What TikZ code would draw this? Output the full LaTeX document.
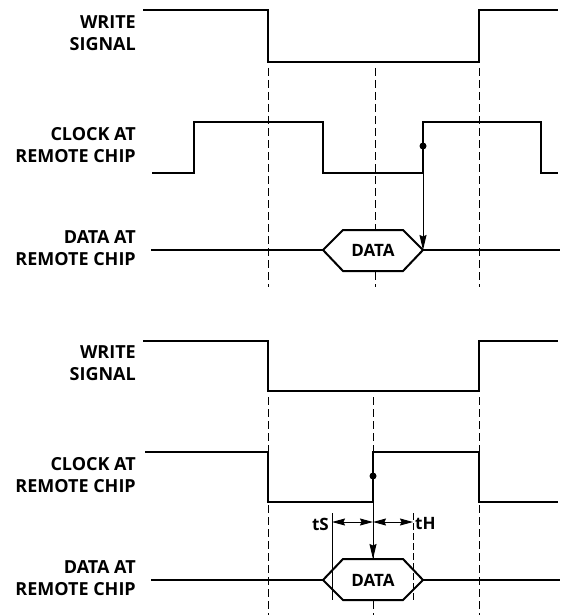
\documentclass[tikz,border=0pt]{standalone}
\usepackage{fontspec}
\setmainfont{Open Sans}
\usetikzlibrary{arrows.meta}

\begin{document}
\begin{tikzpicture}[x=1pt, y=-1pt,
    signal/.style={line width=2pt, line join=miter},
    guide/.style={line width=1pt, dash pattern=on 8pt off 4pt},
    thinline/.style={line width=0.7pt},
    siglabel/.style={anchor=east, align=right, inner sep=0pt, font=\bfseries\fontsize{18}{22.5}\selectfont},
    datatext/.style={inner sep=0pt, font=\bfseries\fontsize{17}{19}\selectfont},
    timetext/.style={inner sep=0pt, font=\bfseries\fontsize{17}{19}\selectfont},
    probe/.style={line width=1pt, -{Stealth[length=15pt, width=7pt, inset=1.5pt]}},
    span/.style={line width=1pt, {Stealth[length=13pt, width=7pt, inset=1.5pt]}-{Stealth[length=13pt, width=7pt, inset=1.5pt]}}]

    \useasboundingbox (0,0) rectangle (561,615);

    % First diagram
    \node[siglabel] (W1) at (136,33) {WRITE\\SIGNAL};
    \node[siglabel] (C1) at (136,145) {CLOCK AT\\REMOTE CHIP};
    \node[siglabel] (D1) at (136,248) {DATA AT\\REMOTE CHIP};

    \draw[guide] (268,68) -- (268,287);
    \draw[guide] (375,68) -- (375,287);
    \draw[guide] (479,68) -- (479,287);

    \draw[signal] (143,10) -- (268,10) -- (268,62) -- (479,62) -- (479,10) -- (558,10);
    \draw[signal] (152,173) -- (194,173) -- (194,122) -- (323,122) -- (323,173)
        -- (423,173) -- (423,122) -- (541,122) -- (541,173) -- (558,173);

    \coordinate (L1) at (323,250);
    \coordinate (R1) at (423,250);
    \draw[signal, fill=white] (L1) -- (343,230) -- (403,230) -- (R1) -- (403,271) -- (343,271) -- cycle;
    \draw[signal] (151,250) -- (L1);
    \draw[signal] (R1) -- (560,250);
    \node[datatext] (X1) at (373,250) {DATA};

    \coordinate (E1) at (423,146);
    \fill (E1) circle (3.5pt);
    \draw[probe] (E1) -- (R1);

    % Second diagram
    \node[siglabel] (W2) at (136,363) {WRITE\\SIGNAL};
    \node[siglabel] (C2) at (136,475) {CLOCK AT\\REMOTE CHIP};
    \node[siglabel] (D2) at (136,578) {DATA AT\\REMOTE CHIP};

    \draw[guide] (268,397) -- (268,615);
    \draw[guide] (373,397) -- (373,615);
    \draw[guide] (479,397) -- (479,615);

    \draw[signal] (143,341) -- (268,341) -- (268,391) -- (479,391) -- (479,341) -- (558,341);
    \draw[signal] (145,452) -- (268,452) -- (268,502) -- (373,502) -- (373,452)
        -- (479,452) -- (479,502) -- (558,502);

    \coordinate (L2) at (323,580);
    \coordinate (R2) at (423,580);
    \coordinate (T2) at (373,559);
    \draw[signal, fill=white] (L2) -- (343,559) -- (403,559) -- (R2) -- (403,600) -- (343,600) -- cycle;
    \draw[signal] (151,580) -- (L2);
    \draw[signal] (R2) -- (560,580);
    \node[datatext] (X2) at (373,580) {DATA};

    \coordinate (E2) at (373,476);
    \fill (E2) circle (3.5pt);
    \draw[probe] (E2) -- (T2);

    \draw[thinline] (332,513) -- (332,600);
    \draw[thinline, dash pattern=on 7pt off 3pt] (413,513) -- (413,600);
    \coordinate (S2) at (332,522);
    \coordinate (M2) at (373,522);
    \coordinate (H2) at (413,522);
    \draw[span] (S2) -- (M2);
    \draw[span] (M2) -- (H2);
    \node[timetext, anchor=east] (TS) at (329,524) {tS};
    \node[timetext, anchor=west] (TH) at (415,524) {tH};

\end{tikzpicture}
\end{document}
